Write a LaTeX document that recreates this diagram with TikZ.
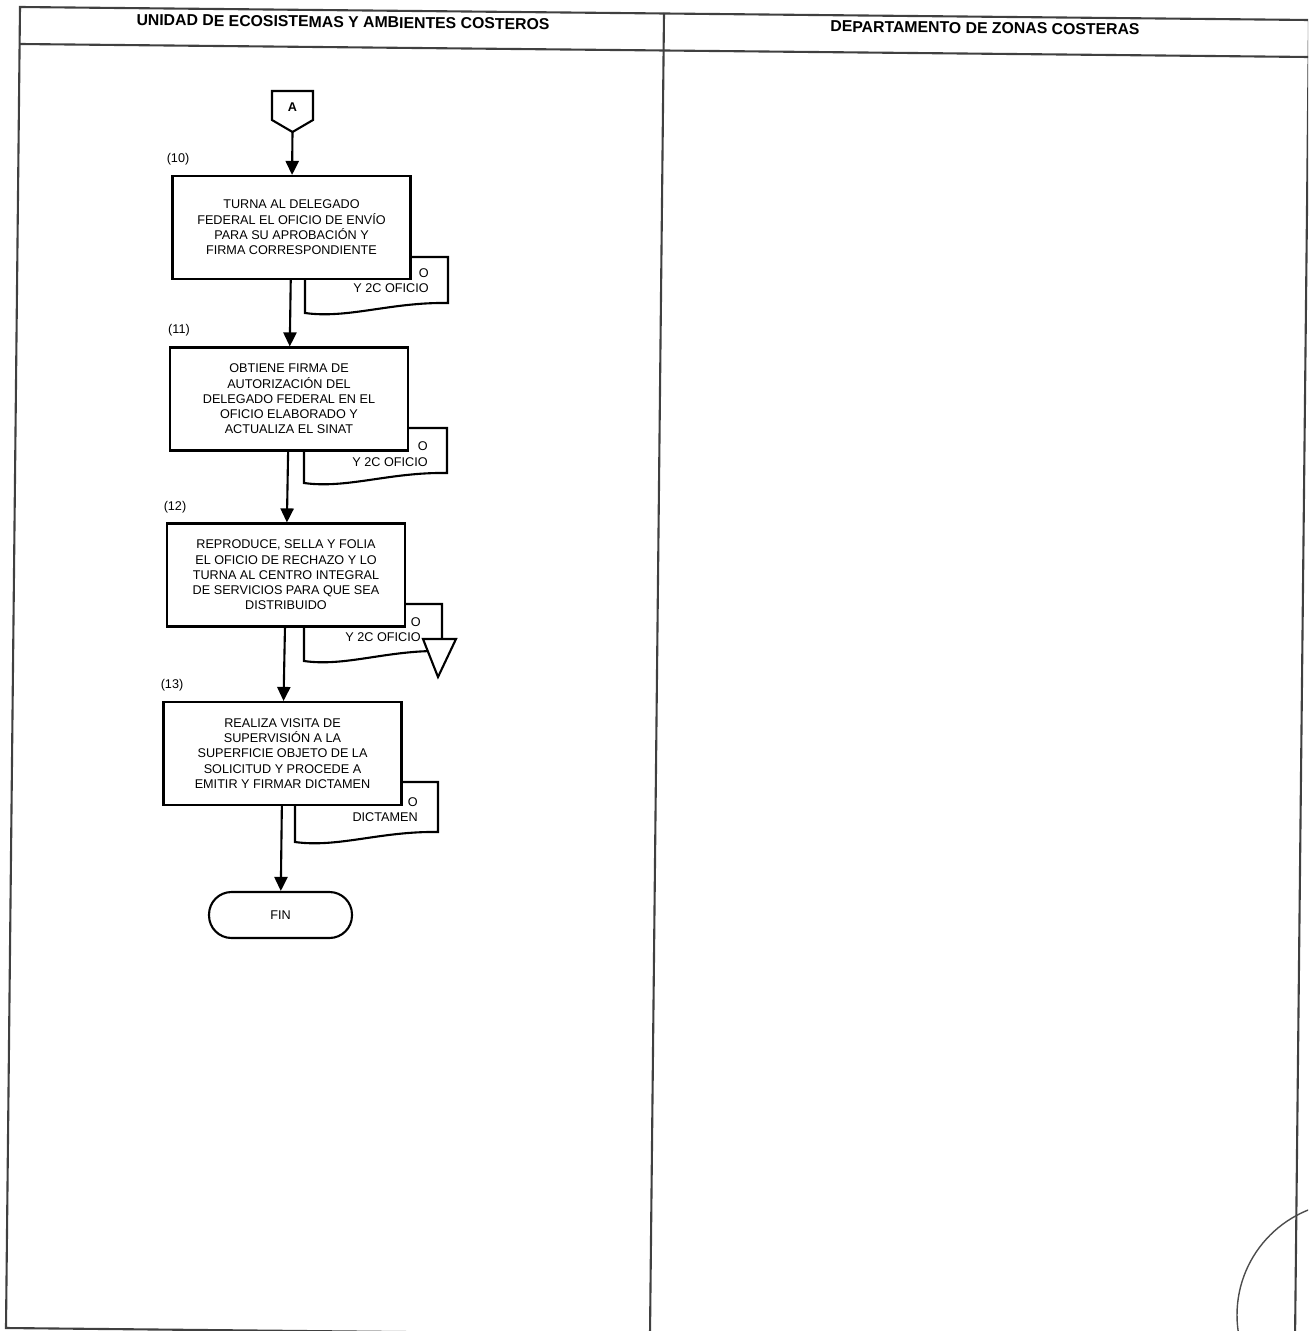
\documentclass[tikz,border=0pt]{standalone}
\usepackage{fontspec}
\setmainfont{Liberation Sans}
\usepackage{tikz}
\usetikzlibrary{arrows.meta}

% hoja de documento: x izq, y sup, x der, y inf
\newcommand{\hoja}[4]{%
  \draw[line width=1.2pt,fill=white] (#1,#2) -- (#3,#2) -- (#3,{#4-10})
    .. controls ({#3-0.4*(#3-#1)},{#4-11}) and ({#1+0.3*(#3-#1)},{#4+6}) .. (#1,#4) -- cycle;}

\begin{document}
\begin{tikzpicture}[x=0.02cm,y=-0.02cm,
    caja/.style={draw,line width=1.2pt,fill=white,minimum width=4.76cm,minimum height=2.06cm,
      align=center,inner sep=2pt,font=\fontsize{7.2}{8.7}\selectfont},
    num/.style={font=\fontsize{7.2}{8.7}\selectfont},
    doctxt/.style={align=right,inner sep=0pt,font=\fontsize{7.2}{8.7}\selectfont},
    fin/.style={draw,line width=1.2pt,fill=white,rounded corners=0.45cm,minimum width=2.86cm,
      minimum height=0.92cm,font=\fontsize{7.2}{8.7}\selectfont},
    flecha/.style={line width=1.2pt,-{Triangle[length=8pt,width=7.5pt]}},
    titulo/.style={font=\bfseries\fontsize{9}{11}\selectfont,rotate=-0.6},
    marco/.style={line width=1.2pt,draw=black!75}]
    \path[use as bounding box] (0,0) rectangle (1308,1331);
    \clip (0,0) rectangle (1308,1331);

    % marco y carriles
    \draw[marco] (20,7) -- (1309,20) -- (1295,1341) -- (6,1328) -- cycle;
    \draw[marco] (20,44) -- (1309,57);
    \draw[marco] (664,13) -- (650,1334);
    \node[titulo] (uni) at (343,22) {UNIDAD DE ECOSISTEMAS Y AMBIENTES COSTEROS};
    \node[titulo] (dep) at (985,28) {DEPARTAMENTO DE ZONAS COSTERAS};
    \draw[black!70,line width=0.8pt] (1350,1315) circle (113);

    % conector A
    \draw[line width=1.2pt,fill=white] (272,91) -- (313,91) -- (313,120) -- (292.5,132) -- (272,120) -- cycle;
    \node[font=\bfseries\fontsize{7.2}{8.7}\selectfont] (A) at (292.5,107) {A};
    \coordinate (Apunta) at (292.5,132);

    \hoja{305}{257}{448}{313}
    \hoja{304}{428}{447}{483}
    \hoja{304}{604}{442}{661}
    \hoja{295}{782}{438}{842}
    \draw[line width=1.2pt,fill=white] (423,639) -- (456,639) -- (438,677) -- cycle;

    \node[doctxt,anchor=east] (t10) at (429,281) {O\\Y 2C OFICIO};
    \node[doctxt,anchor=east] (t11) at (428,454) {O\\Y 2C OFICIO};
    \node[doctxt,anchor=east] (t12) at (421,629.5) {O\\Y 2C OFICIO};
    \node[doctxt,anchor=east] (t13) at (418,809.5) {O\\DICTAMEN};

    \node[num] (n10) at (178,159) {(10)};
    \node[caja] (b10) at (291.5,227.5) {TURNA AL DELEGADO\\FEDERAL EL OFICIO DE ENVÍO\\PARA SU APROBACIÓN Y\\FIRMA CORRESPONDIENTE};
    \node[num] (n11) at (179,330) {(11)};
    \node[caja] (b11) at (289,399) {OBTIENE FIRMA DE\\AUTORIZACIÓN DEL\\DELEGADO FEDERAL EN EL\\OFICIO ELABORADO Y\\ACTUALIZA EL SINAT};
    \node[num] (n12) at (175,507) {(12)};
    \node[caja] (b12) at (286,575) {REPRODUCE, SELLA Y FOLIA\\EL OFICIO DE RECHAZO Y LO\\TURNA AL CENTRO INTEGRAL\\DE SERVICIOS PARA QUE SEA\\DISTRIBUIDO};
    \node[num] (n13) at (172,685) {(13)};
    \node[caja] (b13) at (282.5,753.5) {REALIZA VISITA DE\\SUPERVISIÓN A LA\\SUPERFICIE OBJETO DE LA\\SOLICITUD Y PROCEDE A\\EMITIR Y FIRMAR DICTAMEN};
    \node[fin] (fin) at (280.5,915) {FIN};

    \draw[flecha] (Apunta) -- (b10);
    \draw[flecha] (b10) -- (b11);
    \draw[flecha] (b11) -- (b12);
    \draw[flecha] (b12) -- (b13);
    \draw[flecha] (b13) -- (fin);
\end{tikzpicture}
\end{document}
